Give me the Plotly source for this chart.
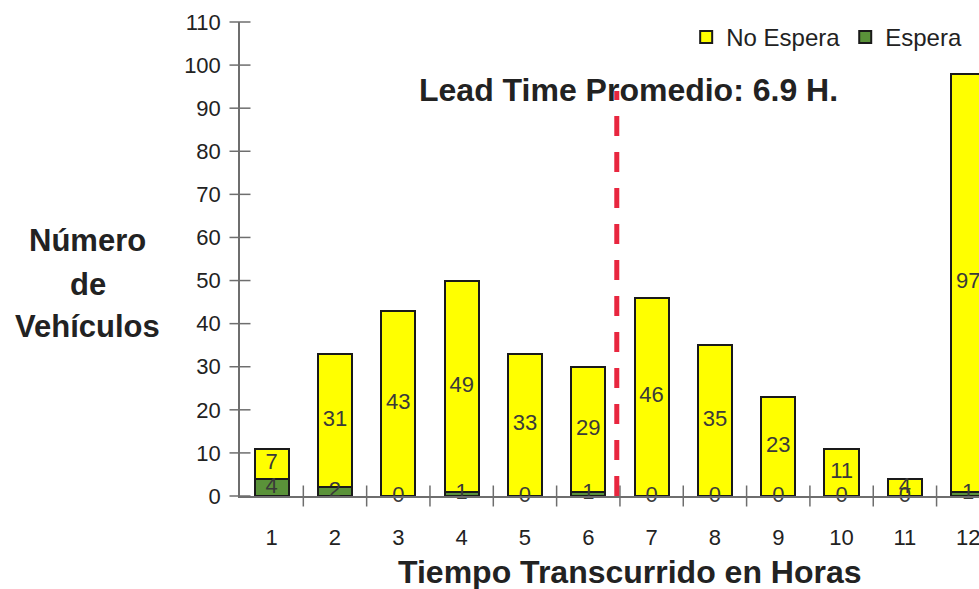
import plotly.graph_objects as go

# Vehicles per elapsed hour, split by whether they waited
horas = [1, 2, 3, 4, 5, 6, 7, 8, 9, 10, 11, 12]
hora_labels = ["1", "2", "3", "4", "5", "6", "7", "8", "9", "10", "11", "12"]
espera = [4, 2, 0, 1, 0, 1, 0, 0, 0, 0, 0, 1]
no_espera = [7, 31, 43, 49, 33, 29, 46, 35, 23, 11, 4, 97]

lead_time = 6.9          # average lead time, hours
lead_line_x = 6.45       # position of the average marker on the hour axis
lead_line_top = 94

y_ticks = list(range(0, 111, 10))
x_bounds = [h + 0.5 for h in horas[:-1]]
x_range = [0.5, 12.17]
y_range = [0, 110]

YELLOW = "#FFFF00"
GREEN = "#5A9239"
TXT = "#222222"
LBL = "#3a3a3a"
AX = "#6e6e6e"
FONT = "Liberation Sans, Arial, sans-serif"

fig = go.Figure()

fig.add_trace(go.Bar(
    x=horas, y=espera, name="Espera", width=0.54,
    marker=dict(color=GREEN, line=dict(color="#1a1a1a", width=2)),
    textposition="none", hoverinfo="skip",
))
fig.add_trace(go.Bar(
    x=horas, y=no_espera, name="No Espera", width=0.54,
    marker=dict(color=YELLOW, line=dict(color="#1a1a1a", width=2)),
    textposition="none", hoverinfo="skip",
))

# tick marks that cross the axis lines
fig.add_trace(go.Scatter(
    x=x_bounds, y=[0] * len(x_bounds), mode="markers",
    marker=dict(symbol="line-ns", size=15, line=dict(color=AX, width=1.5)),
    cliponaxis=False, showlegend=False, hoverinfo="skip",
))
fig.add_trace(go.Scatter(
    x=[x_range[0]] * len(y_ticks), y=y_ticks, mode="markers",
    marker=dict(symbol="line-ew", size=15, line=dict(color=AX, width=1.5)),
    cliponaxis=False, showlegend=False, hoverinfo="skip",
))

# segment value labels, centred in each stacked segment
esp_mid = [e / 2 for e in espera]
no_mid = [e + n / 2 for e, n in zip(espera, no_espera)]
fig.add_trace(go.Scatter(
    x=horas + horas, y=esp_mid + no_mid,
    text=[str(v) for v in espera] + [str(v) for v in no_espera],
    mode="text", textposition="middle center",
    textfont=dict(family=FONT, size=22, color=LBL),
    cliponaxis=False, showlegend=False, hoverinfo="skip",
))

# average lead-time marker
fig.add_shape(
    type="line", xref="x", yref="y",
    x0=lead_line_x, x1=lead_line_x, y0=0, y1=lead_line_top,
    line=dict(color="#E8263F", width=5, dash="20px,16px"),
    layer="above",
)

fig.add_annotation(
    text=f"<b>Lead Time Promedio: {lead_time} H.</b>",
    xref="paper", yref="paper", x=0.526, y=0.857,
    xanchor="center", yanchor="middle",
    showarrow=False, font=dict(family=FONT, size=32, color=TXT),
)
fig.add_annotation(
    text="<b>Tiempo Transcurrido en Horas</b>",
    xref="paper", yref="paper", x=0.528, y=-0.161,
    xanchor="center", yanchor="middle",
    showarrow=False, font=dict(family=FONT, size=32, color=TXT),
)
for word, yp in [("Número", 0.538), ("de", 0.447), ("Vehículos", 0.357)]:
    fig.add_annotation(
        text=f"<b>{word}</b>", xref="paper", yref="paper",
        x=-0.2057, y=yp, xanchor="center", yanchor="middle",
        showarrow=False,
        font=dict(family=FONT, size=31, color=TXT),
    )

fig.update_layout(
    width=979, height=589,
    margin=dict(l=240, r=0, t=22, b=93),
    paper_bgcolor="white", plot_bgcolor="white",
    barmode="stack", bargap=0.46,
    font=dict(family=FONT, color=TXT),
    legend=dict(
        orientation="h", traceorder="reversed",
        x=0.984, xanchor="right", y=1.015, yanchor="top",
        font=dict(family=FONT, size=24, color=TXT),
        itemwidth=30, bgcolor="rgba(0,0,0,0)",
    ),
    xaxis=dict(
        range=x_range, showgrid=False, zeroline=False,
        showline=True, linecolor=AX, linewidth=1.5,
        tickvals=horas, ticktext=hora_labels, ticks="",
        ticklabelstandoff=21, ticklabeloverflow="allow",
        tickfont=dict(family=FONT, size=22, color=TXT),
    ),
    yaxis=dict(
        range=y_range, showgrid=False, zeroline=False,
        showline=True, linecolor=AX, linewidth=1.5,
        tickvals=y_ticks, ticks="", ticklabelstandoff=13,
        tickfont=dict(family=FONT, size=22, color=TXT),
    ),
)

fig.write_html("out.html")
